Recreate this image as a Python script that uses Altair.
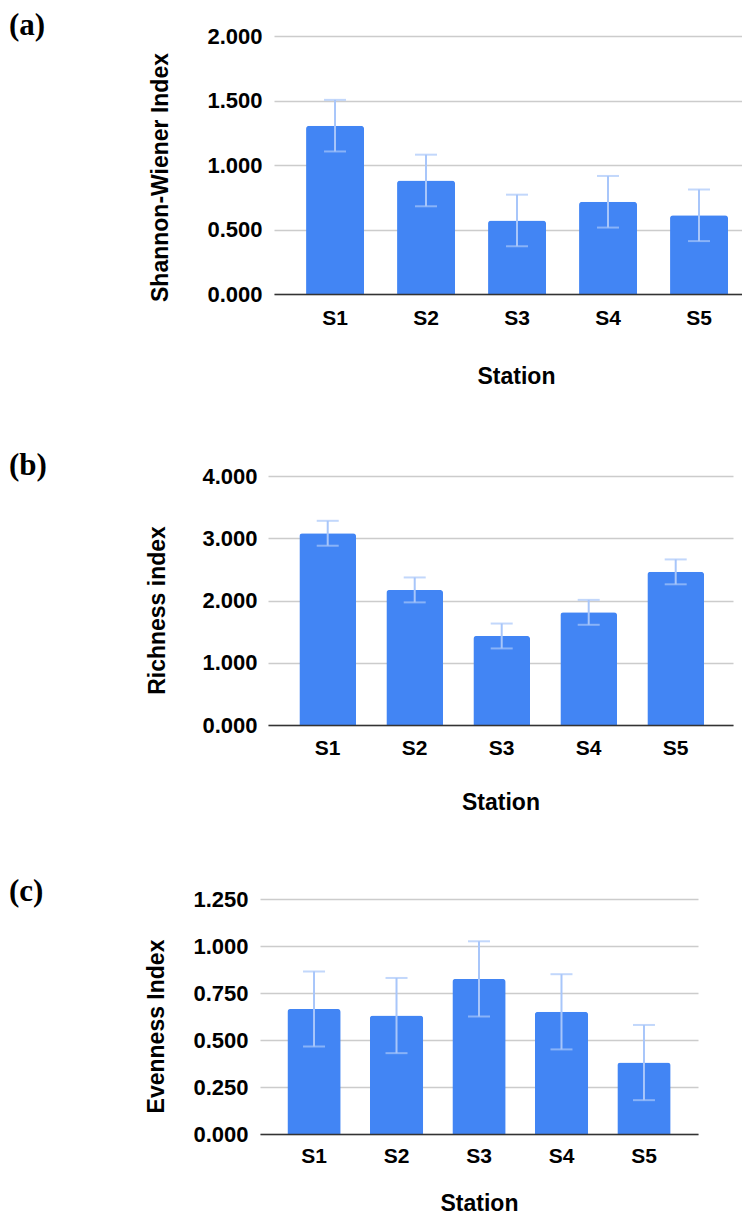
import altair as alt
import pandas as pd

stations = ["S1", "S2", "S3", "S4", "S5"]

shannon = [1.305, 0.88, 0.57, 0.715, 0.61]
shannon_err = [0.2, 0.2, 0.2, 0.2, 0.2]

richness = [3.08, 2.17, 1.43, 1.81, 2.46]
richness_err = [0.2, 0.2, 0.2, 0.2, 0.2]

evenness = [0.665, 0.63, 0.825, 0.65, 0.38]
evenness_err = [0.2, 0.2, 0.2, 0.2, 0.2]

shannon_ticks = [0.0, 0.5, 1.0, 1.5, 2.0]
richness_ticks = [0.0, 1.0, 2.0, 3.0, 4.0]
evenness_ticks = [0.0, 0.25, 0.5, 0.75, 1.0, 1.25]

FONT = "Liberation Sans"
SERIF = "Liberation Serif"
BAR = "#4285F4"
ERR = "#A8C6FA"


def spacer():
    return alt.Chart(pd.DataFrame({"s": [0]})).mark_point(
        size=0, opacity=0, strokeWidth=0
    ).encode(x=alt.value(0), y=alt.value(0)).properties(width=1, height=1)


def panel(letter, values, errs, ytitle, yticks, w, h, pin, pout, palign,
          ylab_pad, ytitle_x, ytitle_y, xlab_pad, xtitle_y, title_dx,
          title_offset, xtitle_x=None):
    df = pd.DataFrame({"Station": stations, "value": values, "err": errs})
    df["lo"] = df["value"] - df["err"]
    df["hi"] = df["value"] + df["err"]
    base = alt.Chart(df)

    xaxis = dict(
        title="Station", labelAngle=0, ticks=False, domain=True,
        domainColor="#333333", domainWidth=1.5, grid=False, zindex=1,
        labelFont=FONT, labelFontSize=21, labelFontWeight="bold",
        labelColor="#000000", labelBaseline="alphabetic",
        labelPadding=xlab_pad,
        titleFont=FONT, titleFontSize=23, titleFontWeight="bold",
        titleColor="#000000", titleBaseline="alphabetic", titleY=xtitle_y,
    )
    if xtitle_x is not None:
        xaxis["titleX"] = xtitle_x

    x = alt.X("Station:N", sort=stations,
              scale=alt.Scale(paddingInner=pin, paddingOuter=pout, align=palign),
              axis=alt.Axis(**xaxis))
    y = alt.Y("value:Q", title=ytitle,
              scale=alt.Scale(domain=[yticks[0], yticks[-1]], nice=False),
              axis=alt.Axis(
                  values=yticks, format=".3f", ticks=False, domain=False,
                  grid=True, gridColor="#cccccc", gridWidth=1.3,
                  labelFont=FONT, labelFontSize=22, labelFontWeight="bold",
                  labelColor="#000000", labelPadding=ylab_pad,
                  titleFont=FONT, titleFontSize=23, titleFontWeight="bold",
                  titleColor="#000000", titleBaseline="alphabetic",
                  titleX=ytitle_x, titleY=ytitle_y,
              ))

    bars = base.mark_bar(color=BAR, cornerRadiusTopLeft=3,
                         cornerRadiusTopRight=3).encode(x=x, y=y)
    xs = alt.X("Station:N", sort=stations)
    rule = base.mark_rule(color=ERR, strokeWidth=2).encode(
        x=xs, y=alt.Y("lo:Q", title=ytitle), y2="hi:Q")
    cap_lo = base.mark_tick(color=ERR, thickness=2, size=22).encode(
        x=xs, y=alt.Y("lo:Q", title=ytitle))
    cap_hi = base.mark_tick(color=ERR, thickness=2, size=22).encode(
        x=xs, y=alt.Y("hi:Q", title=ytitle))

    layered = alt.layer(bars, rule, cap_lo, cap_hi).properties(
        width=w, height=h,
        title=alt.TitleParams(letter, anchor="start", frame="group",
                              dx=title_dx, offset=title_offset, font=SERIF,
                              fontSize=31, fontWeight="bold", color="#000000"),
    )
    # a thin invisible spacer fixes each panel's own left offset in the column
    return alt.hconcat(spacer(), layered, spacing=0)


pa = panel("(a)", shannon, shannon_err, "Shannon-Wiener Index", shannon_ticks,
           w=468, h=258, pin=0.363, pout=0.253, palign=0.696,
           ylab_pad=12, ytitle_x=-107, ytitle_y=141,
           xlab_pad=30, xtitle_y=89, title_dx=-265, title_offset=-17,
           xtitle_x=242)
pb = panel("(b)", richness, richness_err, "Richness index", richness_ticks,
           w=465, h=249, pin=0.348, pout=0.3465, palign=0.52,
           ylab_pad=11, ytitle_x=-104, ytitle_y=134,
           xlab_pad=29, xtitle_y=84, title_dx=-259, title_offset=-17)
pc = panel("(c)", evenness, evenness_err, "Evenness Index", evenness_ticks,
           w=438, h=235, pin=0.354, pout=0.332, palign=0.5,
           ylab_pad=12, ytitle_x=-97, ytitle_y=127,
           xlab_pad=28, xtitle_y=76, title_dx=-251, title_offset=-20)

chart = alt.vconcat(pa, pb, pc, spacing=62).properties(
    padding={"left": 0, "top": 2, "right": 0, "bottom": 0},
    background="white",
).configure_view(stroke=None)

chart.save("out.html", embed_options={"renderer": "svg", "actions": False})
